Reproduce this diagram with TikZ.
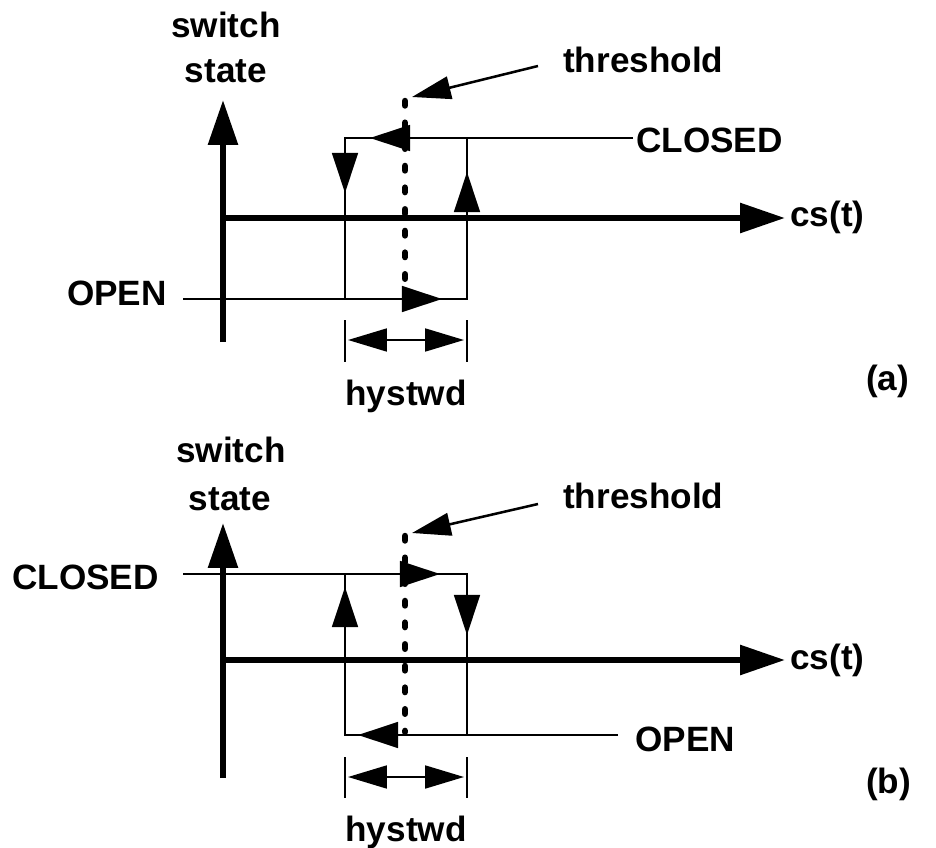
\documentclass[tikz,border=0pt]{standalone}
\usepackage{fontspec}
\setmainfont{Liberation Sans}
\usetikzlibrary{arrows.meta}
\tikzset{
  lbl/.style={font=\fontsize{25}{30}\selectfont\bfseries, inner sep=0pt},
  axis/.style={line width=4.3pt, -{Triangle[length=1.12cm, width=0.72cm]}},
  line/.style={line width=2pt},
  midtip/.style={line width=2pt, -{Triangle[length=1cm, width=0.64cm]}},
  leader/.style={line width=1.8pt, -{Triangle[length=0.97cm, width=0.57cm]}},
  dimline/.style={line width=1.6pt, {Triangle[length=0.97cm, width=0.57cm]}-{Triangle[length=0.97cm, width=0.57cm]}},
  thresh/.style={line width=4.6pt, line cap=round, dash pattern=on 3.2pt off 12.2pt}
}

\begin{document}
\begin{tikzpicture}[x=0.025cm, y=-0.025cm]
  \useasboundingbox (0,0) rectangle (936,848);

  % ---------- (a) ----------
  \coordinate (aO) at (223,218);
  \coordinate (aLow) at (223,342);
  \coordinate (aTop) at (223,100);
  \coordinate (aEnd) at (785,218);
  \coordinate (aCR) at (633,138);
  \coordinate (aCL) at (345,138);
  \coordinate (aOL) at (345,299);
  \coordinate (aOS) at (183,299);
  \coordinate (aOR) at (467,299);
  \coordinate (aCM) at (467,138);

  % Axes
  \draw[axis] (aLow) -- (aTop);
  \draw[axis] (aO) -- (aEnd);

  % Hysteresis loop
  \draw[line] (aCR) -- (aCL) -- (aOL);
  \draw[line] (aOS) -- (aOR) -- (aCM);
  \draw[midtip] (420,138) -- (370,138);
  \draw[midtip] (345,150) -- (345,193);
  \draw[midtip] (467,225) -- (467,172);
  \draw[midtip] (392,299) -- (442,299);

  % Threshold
  \coordinate (aThTop) at (405,101);
  \coordinate (aThBot) at (405,282);
  \draw[thresh] (aThTop) -- (aThBot);
  \node[lbl, anchor=base west] (thrA) at (563,72) {threshold};
  \coordinate (thrAfrom) at (538,66);
  \draw[leader] (thrAfrom) -- (412,97);

  % Width
  \draw[line] (345,320) -- (345,362);
  \draw[line] (467,320) -- (467,362);
  \draw[dimline] (348,340) -- (464,340);

  % Labels
  \node[lbl, anchor=base] (swA) at (226,37) {switch};
  \node[lbl, anchor=base] (stA) at (226,82) {state};
  \node[lbl, anchor=base west] (closedA) at (636,152) {CLOSED};
  \node[lbl, anchor=base west] (csA) at (790,226) {cs(t)};
  \node[lbl, anchor=base east] (openA) at (167,305) {OPEN};
  \node[lbl, anchor=base] (hyA) at (406,405) {hystwd};
  \node[lbl, anchor=base west] (capA) at (866,390) {(a)};

  % ---------- (b) ----------
  \coordinate (bO) at (223,660);
  \coordinate (bLow) at (223,778);
  \coordinate (bTop) at (223,523);
  \coordinate (bEnd) at (785,660);
  \coordinate (bCS) at (183,574);
  \coordinate (bCR) at (467,574);
  \coordinate (bOR) at (467,735);
  \coordinate (bOE) at (618,735);
  \coordinate (bOL) at (345,735);
  \coordinate (bCL) at (345,574);

  % Axes
  \draw[axis] (bLow) -- (bTop);
  \draw[axis] (bO) -- (bEnd);

  % Hysteresis loop
  \draw[line] (bCS) -- (bCR) -- (bOR);
  \draw[line] (bOE) -- (bOL) -- (bCL);
  \draw[midtip] (390,574) -- (440,574);
  \draw[midtip] (467,586) -- (467,635);
  \draw[midtip] (345,640) -- (345,587);
  \draw[midtip] (410,735) -- (358,735);

  % Threshold
  \coordinate (bThTop) at (405,536);
  \coordinate (bThBot) at (405,732);
  \draw[thresh] (bThTop) -- (bThBot);
  \node[lbl, anchor=base west] (thrB) at (563,508) {threshold};
  \coordinate (thrBfrom) at (538,504);
  \draw[leader] (thrBfrom) -- (412,533);

  % Width
  \draw[line] (345,757) -- (345,798);
  \draw[line] (467,757) -- (467,798);
  \draw[dimline] (348,777) -- (464,777);

  % Labels
  \node[lbl, anchor=base] (swB) at (231,462) {switch};
  \node[lbl, anchor=base] (stB) at (230,510) {state};
  \node[lbl, anchor=base west] (closedB) at (12,589) {CLOSED};
  \node[lbl, anchor=base west] (csB) at (790,669) {cs(t)};
  \node[lbl, anchor=base west] (openB) at (635,751) {OPEN};
  \node[lbl, anchor=base] (hyB) at (406,841) {hystwd};
  \node[lbl, anchor=base west] (capB) at (866,793) {(b)};
\end{tikzpicture}
\end{document}
